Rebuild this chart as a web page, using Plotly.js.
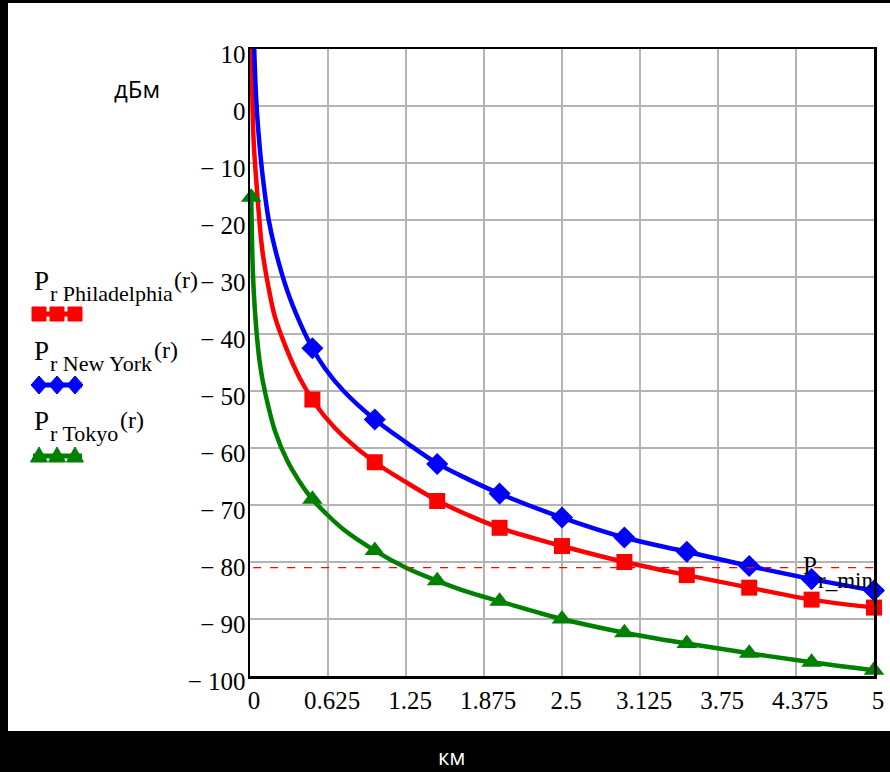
<!DOCTYPE html>
<html>
<head>
<meta charset="utf-8">
<script src="https://cdn.plot.ly/plotly-3.0.1.min.js"></script>
<style>html,body{margin:0;padding:0;background:#000;}#chart{width:890px;height:772px;}</style>
</head>
<body>
<div id="chart"></div>
<script>
// ---- data ----
const distNY = [0.033, 0.05, 0.075, 0.1, 0.15, 0.2, 0.3, 0.4, 0.5, 0.6, 0.75, 1, 1.25, 1.5, 1.75, 2, 2.5, 3, 3.5, 4, 4.5, 5];
const powerNY = [10.5, 1, -6.5, -12, -20, -25, -32.5, -38, -42.5, -46, -50, -55, -59, -62.7, -65.5, -68, -72.2, -75.7, -78.2, -80.7, -83, -85];
const distPH = [0.01, 0.02, 0.03, 0.05, 0.075, 0.1, 0.15, 0.2, 0.3, 0.4, 0.5, 0.6, 0.75, 1, 1.25, 1.5, 1.75, 2, 2.5, 3, 3.5, 4, 4.5, 5];
const powerPH = [10, 0, -6.5, -13, -20, -25.5, -32, -37, -43, -47.8, -51.5, -54.5, -58, -62.5, -66, -69.2, -71.8, -74, -77.2, -80, -82.3, -84.5, -86.6, -88];
const distTK = [0.01, 0.02, 0.03, 0.05, 0.075, 0.1, 0.15, 0.2, 0.3, 0.4, 0.5, 0.6, 0.75, 1, 1.25, 1.5, 1.75, 2, 2.5, 3, 3.5, 4, 4.5, 5];
const powerTK = [-16, -27, -32.5, -39, -44.5, -48, -53, -57, -62.3, -66, -69, -71.3, -74.3, -78, -81, -83.3, -85.3, -86.9, -90, -92.4, -94.3, -96, -97.6, -99];
const markDist = [0.5, 1, 1.5, 2, 2.5, 3, 3.5, 4, 4.5, 5];
const markNY = [-42.5, -55, -62.8, -68, -72.2, -75.7, -78.2, -80.7, -83, -85];
const markPH = [-51.5, -62.5, -69.3, -74, -77.2, -80, -82.3, -84.5, -86.6, -88];
const markTKDist = [0.01, 0.5, 1, 1.5, 2, 2.5, 3, 3.5, 4, 4.5, 5];
const markTK = [-16, -69, -78, -83.3, -86.9, -90, -92.4, -94.3, -96, -97.6, -99];
const prMin = -81;
const xTickVals = [0, 0.625, 1.25, 1.875, 2.5, 3.125, 3.75, 4.375, 5];
const xTickText = ["0", "0.625", "1.25", "1.875", "2.5", "3.125", "3.75", "4.375", "5"];
const yTickVals = [10, 0, -10, -20, -30, -40, -50, -60, -70, -80, -90, -100];
const yTickText = ["10", "0", "\u2212 10", "\u2212 20", "\u2212 30", "\u2212 40", "\u2212 50", "\u2212 60", "\u2212 70", "\u2212 80", "\u2212 90", "\u2212 100"];
const seriesNames = ["Philadelphia", "New York", "Tokyo"];
const seriesColors = ["#ff0000", "#0000ff", "#008000"];
const unitY = "дБм";
const unitX = "км";

// ---- geometry helpers (pixel -> paper) ----
const W = 890, H = 772;
const M = {l: 250, r: 16, t: 49, b: 96};
const PL = M.l, PR = W - M.r, PT = M.t, PB = H - M.b;
const fx = px => (px - PL) / (PR - PL);
const fy = py => (PB - py) / (PB - PT);
const serif = "Liberation Serif, Times New Roman, serif";
const sans = "Open Sans, Noto Sans, sans-serif";
const ctx = document.createElement("canvas").getContext("2d");
function textW(s, size) { ctx.font = size + "px 'Liberation Serif'"; return ctx.measureText(s).width; }

const lineW = 4.5;
const traces = [
  {x: distPH, y: powerPH, mode: "lines", line: {color: seriesColors[0], width: lineW, shape: "spline"}, hoverinfo: "skip"},
  {x: distNY, y: powerNY, mode: "lines", line: {color: seriesColors[1], width: lineW, shape: "spline"}, hoverinfo: "skip"},
  {x: distTK, y: powerTK, mode: "lines", line: {color: seriesColors[2], width: lineW, shape: "spline"}, hoverinfo: "skip"},
  {x: markDist, y: markPH, mode: "markers", marker: {symbol: "square", size: 16, color: seriesColors[0]}, cliponaxis: false},
  {x: markDist, y: markNY, mode: "markers", marker: {symbol: "diamond", size: 17, color: seriesColors[1]}, cliponaxis: false},
  {x: markTKDist, y: markTK, mode: "markers", marker: {symbol: "triangle-up", size: 18, color: seriesColors[2]}, cliponaxis: false}
];

// ---- layout shapes ----
const shapes = [
  {type: "rect", xref: "paper", yref: "paper", x0: fx(8), x1: fx(W + 5), y0: fy(731), y1: fy(3),
   fillcolor: "#ffffff", line: {width: 0}, layer: "below"},
  {type: "line", xref: "paper", yref: "y", x0: 0.005, x1: 1, y0: prMin, y1: prMin,
   line: {color: "#ff0000", width: 1.3, dash: "8px,9px"}, layer: "above"}
];

const swatchY = [314, 385, 456];
const swatchX = [39, 57, 75];
function markerPath(kind, cx, cy) {
  const p = [];
  if (kind === "square") { const s = 7; p.push([cx - s, cy - s], [cx + s, cy - s], [cx + s, cy + s], [cx - s, cy + s]); }
  if (kind === "diamond") { const a = 8, b = 9; p.push([cx, cy - b], [cx + a, cy], [cx, cy + b], [cx - a, cy]); }
  if (kind === "triangle") { const a = 8.5, h = 15; p.push([cx, cy - h * 0.6], [cx + a, cy + h * 0.4], [cx - a, cy + h * 0.4]); }
  return "M " + p.map(q => fx(q[0]) + "," + fy(q[1])).join(" L ") + " Z";
}
const kinds = ["square", "diamond", "triangle"];
swatchY.forEach((sy, i) => {
  shapes.push({type: "line", xref: "paper", yref: "paper", x0: fx(33), x1: fx(82), y0: fy(sy), y1: fy(sy),
    line: {color: seriesColors[i], width: 5}});
  swatchX.forEach(sx => {
    shapes.push({type: "path", xref: "paper", yref: "paper", path: markerPath(kinds[i], sx, sy),
      fillcolor: seriesColors[i], line: {color: seriesColors[i], width: 1}});
  });
});

// ---- annotations ----
const ann = [];
function txt(text, px, py, size, opts) {
  ann.push(Object.assign({xref: "paper", yref: "paper", x: fx(px), y: fy(py), text: text, showarrow: false,
    xanchor: "left", yanchor: "middle", borderpad: 0, font: {family: serif, size: size, color: "#000"}}, opts || {}));
}
const pY = [281, 351, 421];
const P_SIZE = 27, SUB_SIZE = 22, ARG_SIZE = 24;
seriesNames.forEach((nm, i) => {
  const x0 = 33;
  txt("P", x0, pY[i], P_SIZE);
  const xs = x0 + textW("P", P_SIZE) + 1;
  const sub = "r " + nm;
  txt(sub, xs, pY[i] + 12, SUB_SIZE);
  const xa = xs + textW(sub, SUB_SIZE) + 1;
  txt("(r)", xa, pY[i] - 1, ARG_SIZE);
});
// P_r_min label
(function () {
  const subSize = 23, pSize = 25;
  const wSub = textW("r_min", subSize), wP = textW("P", pSize);
  const right = 872;
  const xs = right - wSub;
  txt("r_min", xs, 580, subSize);
  txt("P", xs - wP - 1, 565, pSize);
})();
ann.push({xref: "paper", yref: "paper", x: fx(137), y: fy(88), text: unitY, showarrow: false,
  xanchor: "center", yanchor: "middle", font: {family: sans, size: 24, color: "#000"}});
ann.push({xref: "paper", yref: "paper", x: fx(452), y: fy(756), text: unitX, showarrow: false,
  xanchor: "center", yanchor: "middle", font: {family: sans, size: 22, color: "#fff"}});

const layout = {
  width: W, height: H,
  margin: M,
  paper_bgcolor: "#000000",
  plot_bgcolor: "#ffffff",
  showlegend: false,
  xaxis: {range: [0, 5], tickvals: xTickVals, ticktext: xTickText, showgrid: true, gridcolor: "#b4b4b4", gridwidth: 1.5,
    zeroline: false, showline: true, mirror: true, linecolor: "#000", linewidth: 2.5, ticks: "",
    tickfont: {family: serif, size: 25, color: "#000"}, ticklabelshift: 4, ticklabelstandoff: 0},
  yaxis: {range: [-100, 10], tickvals: yTickVals, ticktext: yTickText, showgrid: true, gridcolor: "#b4b4b4", gridwidth: 1.5,
    zeroline: false, showline: true, mirror: true, linecolor: "#000", linewidth: 2.5, ticks: "",
    tickfont: {family: serif, size: 25, color: "#000"}, ticklabelshift: 5, ticklabelstandoff: -3},
  shapes: shapes,
  annotations: ann
};

Plotly.newPlot("chart", traces, layout, {staticPlot: true});
</script>
</body>
</html>
